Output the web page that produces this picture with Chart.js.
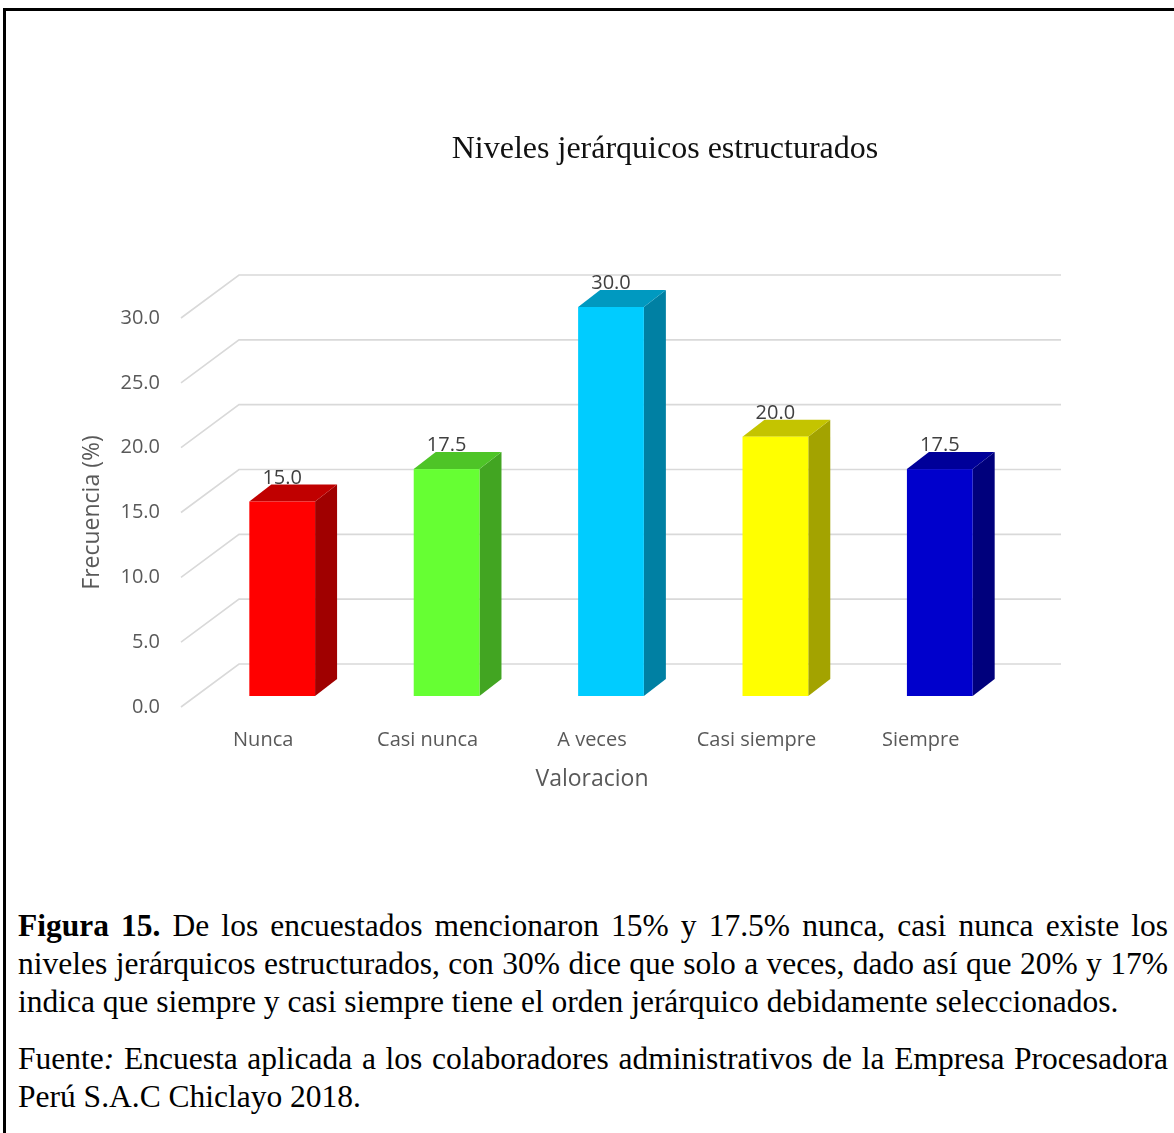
<!DOCTYPE html>
<html lang="es">
<head>
<meta charset="utf-8">
<title>Niveles jerárquicos estructurados</title>
<script src="https://cdn.jsdelivr.net/npm/chart.js@4.4.1/dist/chart.umd.min.js"></script>
<style>
  html, body { margin: 0; padding: 0; background: #fff; }
  body { width: 1174px; height: 1133px; position: relative; overflow: hidden; }
  .frame { position: absolute; left: 3px; top: 8px; width: 1300px; height: 1300px;
           border-top: 3px solid #000; border-left: 3px solid #000; box-sizing: border-box; }
  #wrap { position: absolute; left: 0; top: 0; width: 1174px; height: 830px; }
  .title { position: absolute; top: 127px; left: 665px; transform: translateX(-50%);
           font-family: "Liberation Serif", "Times New Roman", serif; font-size: 32px;
           line-height: 40px; color: #111; white-space: nowrap; }
  .caption { position: absolute; left: 18px; width: 1150px;
             font-family: "Liberation Serif", "Times New Roman", serif; font-size: 31.5px;
             line-height: 38px; color: #000; }
  .caption .ln { white-space: nowrap; text-align: justify; text-align-last: justify; }
  .caption .last { white-space: nowrap; text-align: left; text-align-last: left; }
</style>
</head>
<body>
<div class="frame"></div>
<div id="wrap"><canvas id="chart" width="1174" height="830"></canvas></div>
<div class="title">Niveles jerárquicos estructurados</div>

<div class="caption" style="top:907px">
  <div class="ln"><b>Figura 15.</b> De los encuestados mencionaron 15% y 17.5% nunca, casi nunca existe los</div>
  <div class="ln">niveles jerárquicos estructurados, con 30% dice que solo a veces, dado así que 20% y 17%</div>
  <div class="last">indica que siempre y casi siempre tiene el orden jerárquico debidamente seleccionados.</div>
</div>
<div class="caption" style="top:1040px">
  <div class="ln">Fuente<i>:</i> Encuesta aplicada a los colaboradores administrativos de la Empresa Procesadora</div>
  <div class="last">Perú S.A.C Chiclayo 2018.</div>
</div>

<script>
// Survey answers and their share of respondents (%)
const categories = ['Nunca', 'Casi nunca', 'A veces', 'Casi siempre', 'Siempre'];
const frecuencia = [15.0, 17.5, 30.0, 20.0, 17.5];
const yMin = 0;
const yMax = 30;
const yStep = 5;

// Face colours per bar: front, top, side
const frontColors = ['#FF0000', '#66FF33', '#00CCFF', '#FFFF00', '#0000CC'];
const topColors   = ['#C00000', '#4EC427', '#0099C0', '#C4C400', '#000099'];
const sideColors  = ['#A00000', '#42A522', '#0080A3', '#A3A300', '#00007C'];

// Oblique projection offsets for the pseudo-3D look
const WALL = { x: 58, y: -43 };   // front plane -> back wall
const FACE = { x: 19, y: -11 };   // front plane -> bar front face
const BOX  = { x: 22, y: -17 };   // bar front face -> bar back face

const axisGrey = '#595959';

const threeD = {
  id: 'threeD',
  beforeDatasetsDraw(chart) {
    const { ctx, chartArea: a, scales: { y } } = chart;
    ctx.save();
    ctx.strokeStyle = '#d9d9d9';
    ctx.lineWidth = 1.6;
    y.ticks.forEach(t => {
      const py = y.getPixelForValue(t.value);
      ctx.beginPath();
      ctx.moveTo(a.left, py);
      ctx.lineTo(a.left + WALL.x, py + WALL.y);
      ctx.lineTo(a.right + WALL.x, py + WALL.y);
      ctx.stroke();
    });
    ctx.restore();
  },
  beforeDatasetDraw() {
    return false; // bars are drawn as boxes below
  },
  afterDatasetsDraw(chart) {
    const { ctx } = chart;
    const meta = chart.getDatasetMeta(0);
    const values = chart.data.datasets[0].data;
    ctx.save();
    meta.data.forEach((bar, i) => {
      const p = bar.getProps(['x', 'y', 'base', 'width'], true);
      const x0 = p.x - p.width / 2 + FACE.x;
      const x1 = p.x + p.width / 2 + FACE.x;
      const yT = p.y + FACE.y;
      const yB = p.base + FACE.y;

      // side
      ctx.fillStyle = sideColors[i];
      ctx.beginPath();
      ctx.moveTo(x1, yT);
      ctx.lineTo(x1 + BOX.x, yT + BOX.y);
      ctx.lineTo(x1 + BOX.x, yB + BOX.y);
      ctx.lineTo(x1, yB);
      ctx.closePath();
      ctx.fill();

      // top
      ctx.fillStyle = topColors[i];
      ctx.beginPath();
      ctx.moveTo(x0, yT);
      ctx.lineTo(x1, yT);
      ctx.lineTo(x1 + BOX.x, yT + BOX.y);
      ctx.lineTo(x0 + BOX.x, yT + BOX.y);
      ctx.closePath();
      ctx.fill();

      // front
      ctx.fillStyle = frontColors[i];
      ctx.fillRect(x0, yT, x1 - x0, yB - yT);

      // value label
      ctx.fillStyle = '#404040';
      ctx.font = '20px "Open Sans", sans-serif';
      ctx.textAlign = 'center';
      ctx.textBaseline = 'alphabetic';
      ctx.fillText(values[i].toFixed(1), (x0 + x1) / 2, yT + BOX.y - 1);
    });
    ctx.restore();
  }
};

new Chart(document.getElementById('chart'), {
  type: 'bar',
  data: {
    labels: categories,
    datasets: [{
      label: 'Frecuencia (%)',
      data: frecuencia,
      backgroundColor: frontColors,
      categoryPercentage: 1,
      barPercentage: 0.4
    }]
  },
  options: {
    responsive: false,
    animation: false,
    devicePixelRatio: 1,
    layout: { padding: { left: 77, top: 318, right: 171, bottom: 33 } },
    plugins: {
      legend: { display: false },
      tooltip: { enabled: false },
      title: { display: false }
    },
    scales: {
      x: {
        grid: { display: false, drawTicks: false, tickLength: 0 },
        border: { display: false },
        ticks: {
          padding: 21,
          color: axisGrey,
          font: { family: '"Open Sans", sans-serif', size: 20 },
          maxRotation: 0
        },
        title: {
          display: true,
          text: 'Valoracion',
          color: axisGrey,
          font: { family: '"Open Sans", sans-serif', size: 23 }
        },
        afterFit(scale) { scale.height = 90; }
      },
      y: {
        min: yMin,
        max: yMax,
        grid: { display: false, drawTicks: false, tickLength: 0 },
        border: { display: false },
        ticks: {
          stepSize: yStep,
          padding: 21,
          color: axisGrey,
          font: { family: '"Open Sans", sans-serif', size: 20 },
          callback: v => Number(v).toFixed(1)
        },
        title: {
          display: true,
          text: 'Frecuencia (%)',
          color: axisGrey,
          padding: { top: 2, bottom: 4 },
          font: { family: '"Open Sans", sans-serif', size: 23 }
        },
        afterFit(scale) { scale.width = 104; }
      }
    }
  },
  plugins: [threeD]
});
</script>
</body>
</html>
